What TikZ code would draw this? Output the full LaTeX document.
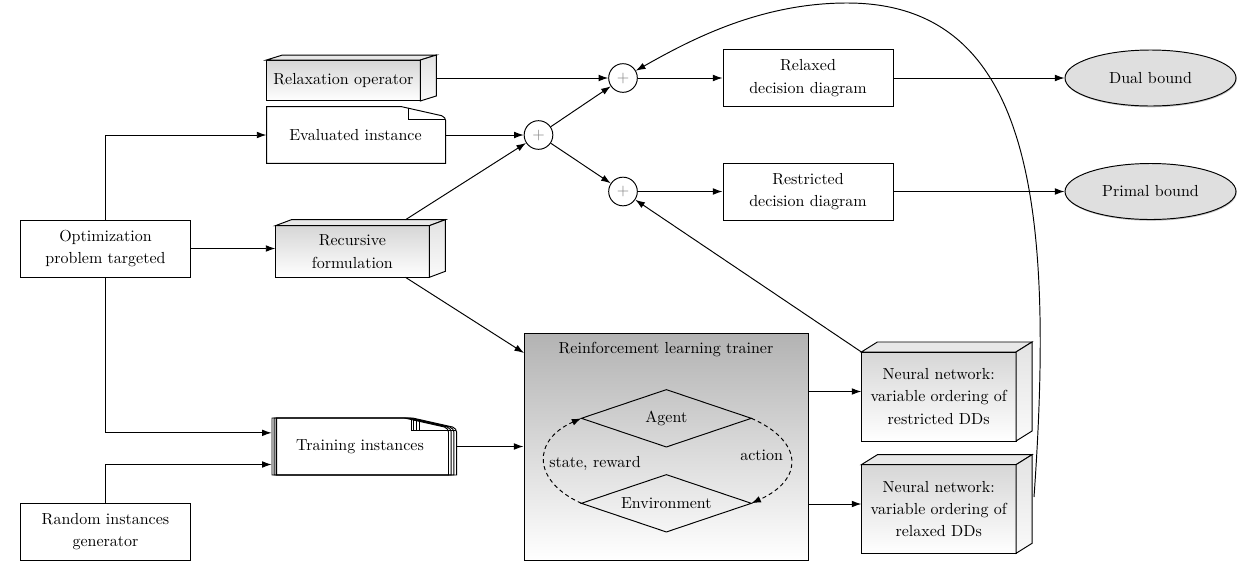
\documentclass[tikz,border=0pt]{standalone}
\usetikzlibrary{arrows.meta,calc,shadows,shapes.geometric}
\tikzset{
  lw/.style={line width=0.6pt},
  sz/.style 2 args={minimum width=#1*0.625pt, minimum height=#2*0.625pt},
  box/.style={draw, lw, rectangle, inner sep=0pt, align=center},
  ghost/.style={rectangle, inner sep=0pt, align=center},
  arr/.style={lw, -{Latex[length=6pt,width=4.2pt]}},
  dasharr/.style={lw, dash pattern=on 2.5pt off 2pt, -{Latex[length=6pt,width=4.2pt]}},
  cubefront/.style={lw, top color=gray!32, bottom color=white},
  cubetop/.style={lw, fill=gray!18},
  cubeside/.style={lw, top color=gray!22, bottom color=gray!4},
  bound/.style={ellipse, draw, lw, fill=gray!25, inner sep=0pt, drop shadow={opacity=0.45, shadow xshift=0.4pt, shadow yshift=-0.8pt}},
  oplus/.style={circle, draw, lw, inner sep=0pt, minimum size=17.9pt, text=gray},
  every node/.style={font=\fontsize{10}{14}\selectfont},
}
\newcommand{\cuboid}[4]{%
  \coordinate (#1-fsw) at (#1.south west);
  \coordinate (#1-fne) at ([shift={(-#2,#3)}]#1.north east);
  \coordinate (#1-fnw) at ([shift={(0,#3)}]#1.north west);
  \coordinate (#1-fse) at ([shift={(-#2,0)}]#1.south east);
  \coordinate (#1-bnw) at ([shift={(#2,0)}]#1.north west);
  \coordinate (#1-bse) at ([shift={(0,-#3)}]#1.south east);
  \draw[cubefront] (#1-fsw) rectangle (#1-fne);
  \draw[cubetop] (#1-fnw) -- (#1-bnw) -- (#1.north east) -- (#1-fne) -- cycle;
  \draw[cubeside] (#1-fne) -- (#1.north east) -- (#1-bse) -- (#1-fse) -- cycle;
  \node[align=center] (#1-txt) at ($(#1-fsw)!0.5!(#1-fne)$) {#4};
}
\newcommand{\docshape}[4]{%
  \draw[lw] (#1,#2) -- (#3-44,#2) -- (#3-4,#2+9) .. controls (#3-1.5,#2+10) and (#3,#2+12) .. (#3,#2+14) -- (#3,#4) -- (#1,#4) -- cycle;
  \draw[lw] (#3-37.5,#2+1) -- (#3-37.5,#2+12.3) -- (#3-0.5,#2+12.3);
}
\begin{document}
\begin{tikzpicture}[x=0.625pt,y=-0.625pt]
\useasboundingbox (0,0) rectangle (1247,566);
\fill[white] (0,0) rectangle (1247,566);

% left boxes
\node[box, sz={170}{57}] (opt) at (105.5,248.5) {Optimization\\problem targeted};
\node[box, sz={170}{57}] (rand) at (105.5,531.5) {Random instances\\generator};

% relaxation operator cuboid
\node[ghost, sz={169.3}{45.3}] (relax) at (351.35,78) {};
\cuboid{relax}{16}{5}{Relaxation operator}

% evaluated instance document
\node[ghost, sz={179}{56.6}] (eval) at (356.2,135) {};
\docshape{266.7}{106.7}{445.7}{163.3}
\node (evaltxt) at (355.5,135) {Evaluated instance};

% recursive formulation cuboid
\node[ghost, sz={169.3}{57}] (rec) at (360.35,248.5) {};
\cuboid{rec}{16}{6}{Recursive\\formulation}

% training instances (stacked documents)
\node[ghost, sz={184.7}{57}] (train) at (364.3,446.5) {};
\docshape{272}{418}{448.5}{475}
\docshape{274.2}{418}{451.2}{475}
\docshape{276.2}{418}{453.9}{475}
\docshape{276.6}{418}{456.6}{475}
\node (traintxt) at (360,446.5) {Training instances};

% oplus nodes
\node[oplus] (o1) at (538.5,135) {$+$};
\node[oplus] (o2) at (623,78) {$+$};
\node[oplus] (o3) at (623,191.5) {$+$};

% decision diagrams
\node[box, sz={170}{57}] (relaxed) at (808,78) {Relaxed\\decision diagram};
\node[box, sz={170}{57}] (restricted) at (808,191.5) {Restricted\\decision diagram};

% bounds
\node[bound, sz={171}{56}] (dual) at (1150.5,78) {Dual bound};
\node[bound, sz={171}{56}] (primal) at (1150.5,191.5) {Primal bound};

% RL trainer
\node[draw, lw, top color=gray!60, bottom color=white, inner sep=0pt, sz={284}{227}] (rl) at (666,446.5) {};
\node (rltitle) at (666,349) {Reinforcement learning trainer};
\node[ghost, sz={169.3}{56.7}] (agent) at (666.35,418.3) {};
\draw[lw] (agent.west) -- (agent.north) -- (agent.east) -- (agent.south) -- cycle;
\node (agenttxt) at (agent) {Agent};
\node[ghost, sz={169.3}{56.7}] (env) at (666.35,503.3) {};
\draw[lw] (env.west) -- (env.north) -- (env.east) -- (env.south) -- cycle;
\node (envtxt) at (env) {Environment};
\draw[dasharr] (env.west) .. controls (532,481) and (532,440) .. (agent.west);
\draw[dasharr] (agent.east) .. controls (804,441.5) and (804,479.5) .. (env.east);
\node (sr) at (595,463) {state, reward};
\node (act) at (761.7,455) {action};

% neural networks
\node[ghost, sz={170}{98.4}] (nn1) at (946.7,391.5) {};
\cuboid{nn1}{16}{10}{Neural network:\\variable ordering of\\restricted DDs}
\node[ghost, sz={170}{98}] (nn2) at (946.7,504) {};
\cuboid{nn2}{16}{10}{Neural network:\\variable ordering of\\relaxed DDs}

% helper coordinates
\coordinate (trainin1) at ($(train.north west)!0.263!(train.south west)$);
\coordinate (trainin2) at ($(train.north west)!0.812!(train.south west)$);
\coordinate (rlin) at (524,353);
\coordinate (loopstart) at (1034,497);
\coordinate (looptop) at (847,3);

% connectors
\draw[arr] (opt.north) |- (eval.west);
\draw[arr] (opt.east) -- (opt.east -| rec.west);
\draw[arr] (opt.south) |- (trainin1);
\draw[arr] (rand.north) |- (trainin2);
\draw[arr] (relax.east) -- (o2);
\draw[arr] (eval.east) -- (o1);
\draw[arr] (rec) -- (o1);
\draw[arr] (rec) -- (rlin);
\draw[arr] (o1) -- (o2);
\draw[arr] (o1) -- (o3);
\draw[arr] (o2) -- (relaxed);
\draw[arr] (o3) -- (restricted);
\draw[arr] (relaxed) -- (dual);
\draw[arr] (restricted) -- (primal);
\draw[arr] (train) -- (rl);
\draw[arr] (rl.east |- nn1) -- (nn1);
\draw[arr] (rl.east |- nn2) -- (nn2);
\draw[arr] (nn1-fnw) -- (o3);
\draw[arr] (loopstart) .. controls (1055,200) and (1030,3) .. (looptop) .. controls (760,3) and (690,40) .. (o2);
\end{tikzpicture}
\end{document}
